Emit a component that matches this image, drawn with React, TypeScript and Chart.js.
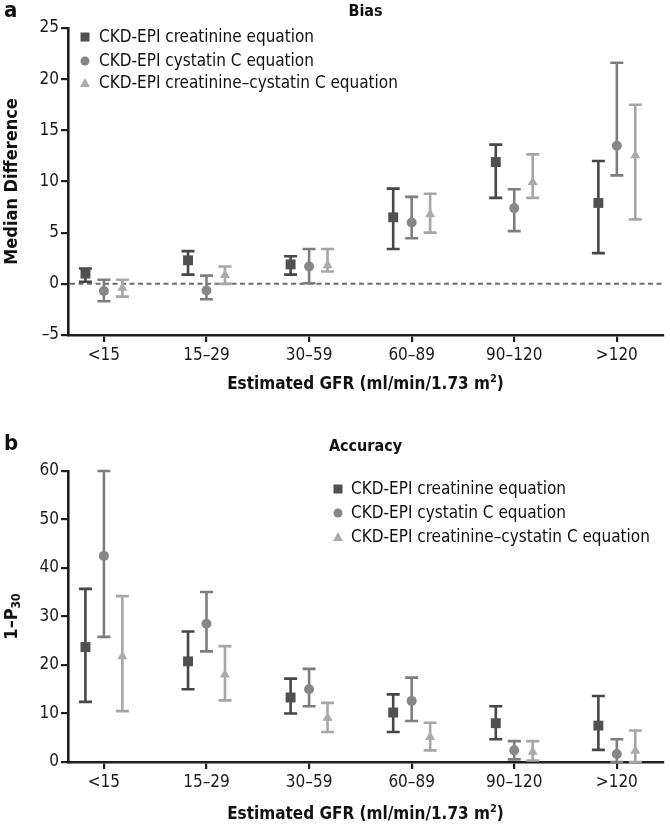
import React, { useEffect, useRef } from 'react';
import { Chart, registerables } from 'chart.js';

Chart.register(...registerables);

// ---------- data ----------
const categories = ['<15', '15–29', '30–59', '60–89', '90–120', '>120'];
const seriesNames = [
  'CKD-EPI creatinine equation',
  'CKD-EPI cystatin C equation',
  'CKD-EPI creatinine–cystatin C equation',
];

// Panel a: Bias (median difference)
const biasCreat = [1.0, 2.3, 1.9, 6.5, 11.9, 7.9];
const biasCreatLow = [0.2, 0.9, 0.9, 3.4, 8.4, 3.0];
const biasCreatHigh = [1.5, 3.2, 2.7, 9.3, 13.6, 12.0];
const biasCys = [-0.7, -0.65, 1.7, 6.0, 7.4, 13.5];
const biasCysLow = [-1.7, -1.5, 0.05, 4.45, 5.15, 10.6];
const biasCysHigh = [0.4, 0.8, 3.4, 8.5, 9.25, 21.6];
const biasComb = [-0.4, 0.85, 1.8, 6.8, 9.95, 12.55];
const biasCombLow = [-1.25, 0.0, 1.2, 5.0, 8.4, 6.3];
const biasCombHigh = [0.4, 1.7, 3.4, 8.8, 12.65, 17.5];

// Panel b: Accuracy (1 - P30)
const accCreat = [23.7, 20.75, 13.3, 10.2, 8.0, 7.5];
const accCreatLow = [12.4, 15.0, 10.0, 6.2, 4.7, 2.5];
const accCreatHigh = [35.7, 26.9, 17.2, 13.95, 11.5, 13.6];
const accCys = [42.5, 28.5, 15.0, 12.6, 2.4, 1.65];
const accCysLow = [25.8, 22.8, 11.5, 8.45, 0.55, 0];
const accCysHigh = [60, 35.05, 19.2, 17.4, 4.3, 4.7];
const accComb = [21.8, 18.0, 9.1, 5.15, 2.1, 2.3];
const accCombLow = [10.5, 12.7, 6.2, 2.4, 0.3, 0];
const accCombHigh = [34.2, 23.9, 12.2, 8.1, 4.3, 6.5];

// ---------- styling ----------
const FONT = "'Liberation Sans Narrow', 'DejaVu Sans Condensed', 'Liberation Sans', sans-serif";
const OFFSETS = [-0.18, 0, 0.18];
const STYLES = ['rect', 'circle', 'triangle'];
const RADII = [7, 5, 5.8];
const COLORS = ['#505050', '#878787', '#ababab'];
const BAR_COLORS = ['#474747', '#7e7e7e', '#a6a6a6'];
const AXIS = '#1e1e1e';

type PanelCfg = {
  height: number;
  padTop: number;
  padBottom: number;
  yMin: number;
  yMax: number;
  yStep: number;
  vals: number[][];
  lo: number[][];
  hi: number[][];
  zeroLine: boolean;
  letter: string;
  letterY: number;
  title: string;
  titleY: number;
  yTitle: string;
  ySub: string;
  xTitleY: number;
  legendMarkerX: number;
  legendTextX: number;
  legendY: number[];
};

const errorBarPlugin = {
  id: 'errorBars',
  beforeDatasetsDraw(chart: any) {
    const { ctx, scales } = chart;
    const x = scales.x;
    const y = scales.y;
    chart.data.datasets.forEach((ds: any) => {
      ctx.save();
      ctx.strokeStyle = ds.barColor;
      ctx.lineWidth = 2.6;
      ctx.lineCap = 'butt';
      ds.data.forEach((p: any, i: number) => {
        const px = x.getPixelForValue(p.x);
        const yl = y.getPixelForValue(ds.lo[i]);
        const yh = y.getPixelForValue(ds.hi[i]);
        const cap = 6.5;
        ctx.beginPath();
        ctx.moveTo(px, yl);
        ctx.lineTo(px, yh);
        ctx.moveTo(px - cap, yl);
        ctx.lineTo(px + cap, yl);
        ctx.moveTo(px - cap, yh);
        ctx.lineTo(px + cap, yh);
        ctx.stroke();
      });
      ctx.restore();
    });
  },
};

function drawMarker(ctx: CanvasRenderingContext2D, style: string, x: number, y: number, color: string) {
  ctx.fillStyle = color;
  ctx.beginPath();
  if (style === 'rect') {
    ctx.rect(x - 4.5, y - 4.5, 9, 9);
  } else if (style === 'circle') {
    ctx.arc(x, y, 4.5, 0, Math.PI * 2);
  } else {
    ctx.moveTo(x, y - 5);
    ctx.lineTo(x + 5, y + 4);
    ctx.lineTo(x - 5, y + 4);
    ctx.closePath();
  }
  ctx.fill();
}

function makeDecoPlugin(cfg: PanelCfg) {
  return {
    id: 'deco',
    beforeDatasetsDraw(chart: any) {
      if (!cfg.zeroLine) return;
      const { ctx, chartArea, scales } = chart;
      const y0 = scales.y.getPixelForValue(0);
      ctx.save();
      ctx.strokeStyle = '#6a6a6a';
      ctx.lineWidth = 2;
      ctx.setLineDash([5, 3.5]);
      ctx.beginPath();
      ctx.moveTo(chartArea.left + 2, y0);
      ctx.lineTo(chartArea.right, y0);
      ctx.stroke();
      ctx.restore();
    },
    afterDraw(chart: any) {
      const { ctx, chartArea } = chart;
      const cx = (chartArea.left + chartArea.right) / 2;
      ctx.save();
      ctx.fillStyle = '#111';
      // panel letter
      ctx.font = `bold 22px ${FONT}`;
      ctx.textAlign = 'left';
      ctx.textBaseline = 'middle';
      ctx.fillText(cfg.letter, 4, cfg.letterY);
      // title
      ctx.font = `bold 16px ${FONT}`;
      ctx.textAlign = 'center';
      ctx.fillText(cfg.title, cx, cfg.titleY);
      // x title
      ctx.font = `bold 17px ${FONT}`;
      const main = 'Estimated GFR (ml/min/1.73 m';
      const wMain = ctx.measureText(main).width;
      ctx.font = `bold 11px ${FONT}`;
      const wSup = ctx.measureText('2').width;
      ctx.font = `bold 17px ${FONT}`;
      const wEnd = ctx.measureText(')').width;
      const total = wMain + wSup + wEnd;
      let sx = cx - total / 2;
      ctx.textAlign = 'left';
      ctx.fillText(main, sx, cfg.xTitleY);
      sx += wMain;
      ctx.font = `bold 11px ${FONT}`;
      ctx.fillText('2', sx, cfg.xTitleY - 6);
      sx += wSup;
      ctx.font = `bold 17px ${FONT}`;
      ctx.fillText(')', sx, cfg.xTitleY);
      // y title
      const cy = (chartArea.top + chartArea.bottom) / 2;
      ctx.save();
      ctx.translate(12, cy);
      ctx.rotate(-Math.PI / 2);
      ctx.font = `bold 18px ${FONT}`;
      const wy = ctx.measureText(cfg.yTitle).width;
      let wsub = 0;
      if (cfg.ySub) {
        ctx.font = `bold 12px ${FONT}`;
        wsub = ctx.measureText(cfg.ySub).width;
      }
      const start = -(wy + wsub) / 2;
      ctx.font = `bold 18px ${FONT}`;
      ctx.textAlign = 'left';
      ctx.fillText(cfg.yTitle, start, 0);
      if (cfg.ySub) {
        ctx.font = `bold 12px ${FONT}`;
        ctx.fillText(cfg.ySub, start + wy, 5);
      }
      ctx.restore();
      // legend
      ctx.font = `17px ${FONT}`;
      ctx.textAlign = 'left';
      ctx.textBaseline = 'middle';
      seriesNames.forEach((name, k) => {
        const ly = cfg.legendY[k];
        drawMarker(ctx, STYLES[k], cfg.legendMarkerX, ly, COLORS[k]);
        ctx.fillStyle = '#111';
        ctx.fillText(name, cfg.legendTextX, ly + 1);
      });
      ctx.restore();
    },
  };
}

function buildChart(canvas: HTMLCanvasElement, cfg: PanelCfg) {
  const datasets = seriesNames.map((name, k) => ({
    type: 'scatter' as const,
    label: name,
    data: cfg.vals[k].map((v, i) => ({ x: i + OFFSETS[k], y: v })),
    lo: cfg.lo[k],
    hi: cfg.hi[k],
    barColor: BAR_COLORS[k],
    pointStyle: STYLES[k],
    pointRadius: RADII[k],
    pointBackgroundColor: COLORS[k],
    pointBorderColor: COLORS[k],
    pointBorderWidth: 0,
    showLine: false,
  }));
  const tickFont = { family: FONT, size: 17 };
  return new Chart(canvas, {
    type: 'scatter',
    data: { datasets } as any,
    options: {
      responsive: false,
      animation: false,
      events: [],
      layout: { padding: { top: cfg.padTop, right: 2, left: 0, bottom: cfg.padBottom } },
      plugins: {
        legend: { display: false },
        tooltip: { enabled: false },
      },
      scales: {
        x: {
          type: 'linear',
          min: -0.35,
          max: 5.45,
          afterBuildTicks: (s: any) => {
            s.ticks = categories.map((_, i) => ({ value: i }));
          },
          afterFit: (s: any) => {
            s.height = 30;
          },
          ticks: {
            callback: (v: any) => categories[Math.round(Number(v))] ?? '',
            font: tickFont,
            color: '#1a1a1a',
            padding: 3,
            maxRotation: 0,
            autoSkip: false,
          },
          grid: { drawOnChartArea: false, drawTicks: true, tickLength: 7, lineWidth: 2.2, color: AXIS },
          border: { display: true, width: 2.6, color: AXIS },
        },
        y: {
          type: 'linear',
          min: cfg.yMin,
          max: cfg.yMax,
          afterFit: (s: any) => {
            s.width = 68;
          },
          ticks: {
            stepSize: cfg.yStep,
            callback: (v: any) => (Number(v) < 0 ? '–' + Math.abs(Number(v)) : String(v)),
            font: tickFont,
            color: '#1a1a1a',
            padding: 2,
          },
          grid: { drawOnChartArea: false, drawTicks: true, tickLength: 7, lineWidth: 2.2, color: AXIS },
          border: { display: true, width: 2.6, color: AXIS },
        },
      },
    } as any,
    plugins: [makeDecoPlugin(cfg), errorBarPlugin],
  });
}

const topCfg: PanelCfg = {
  height: 410,
  padTop: 28,
  padBottom: 45,
  yMin: -5,
  yMax: 25,
  yStep: 5,
  vals: [biasCreat, biasCys, biasComb],
  lo: [biasCreatLow, biasCysLow, biasCombLow],
  hi: [biasCreatHigh, biasCysHigh, biasCombHigh],
  zeroLine: true,
  letter: 'a',
  letterY: 11,
  title: 'Bias',
  titleY: 12,
  yTitle: 'Median Difference',
  ySub: '',
  xTitleY: 385,
  legendMarkerX: 85,
  legendTextX: 99,
  legendY: [37, 61, 83],
};

const botCfg: PanelCfg = {
  height: 418,
  padTop: 61,
  padBottom: 36,
  yMin: 0,
  yMax: 60,
  yStep: 10,
  vals: [accCreat, accCys, accComb],
  lo: [accCreatLow, accCysLow, accCombLow],
  hi: [accCreatHigh, accCysHigh, accCombHigh],
  zeroLine: false,
  letter: 'b',
  letterY: 34,
  title: 'Accuracy',
  titleY: 37,
  yTitle: '1–P',
  ySub: '30',
  xTitleY: 405,
  legendMarkerX: 338,
  legendTextX: 351,
  legendY: [79, 103, 127],
};

export default function App() {
  const topRef = useRef<HTMLCanvasElement>(null);
  const botRef = useRef<HTMLCanvasElement>(null);
  useEffect(() => {
    document.body.style.margin = '0';
    const c1 = buildChart(topRef.current!, topCfg);
    const c2 = buildChart(botRef.current!, botCfg);
    return () => {
      c1.destroy();
      c2.destroy();
    };
  }, []);
  return (
    <div style={{ position: 'relative', width: 670, height: 828, background: '#fff' }}>
      <canvas
        ref={topRef}
        width={670}
        height={topCfg.height}
        style={{ position: 'absolute', left: 0, top: 0, width: 670, height: topCfg.height }}
      />
      <canvas
        ref={botRef}
        width={670}
        height={botCfg.height}
        style={{ position: 'absolute', left: 0, top: 410, width: 670, height: botCfg.height }}
      />
    </div>
  );
}
